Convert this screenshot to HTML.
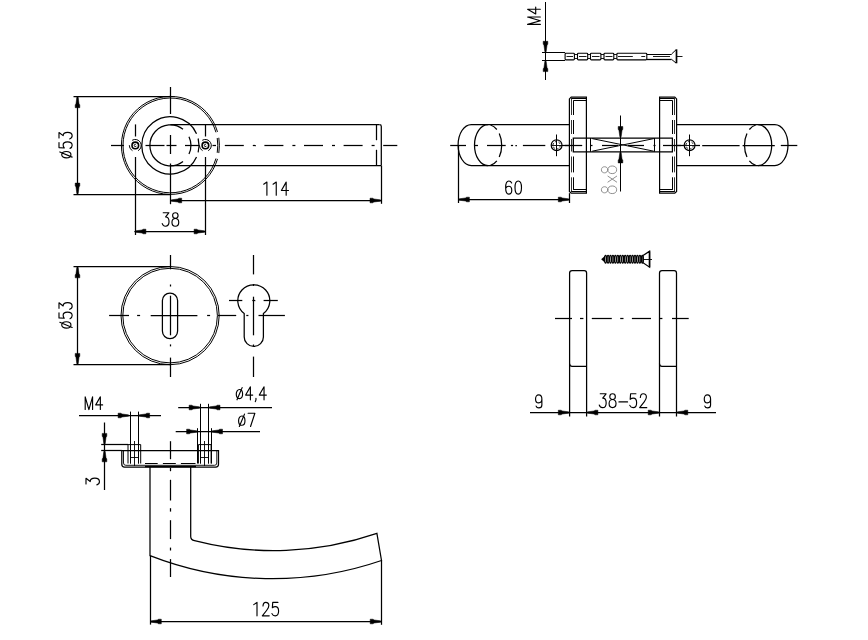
<!DOCTYPE html>
<html><head><meta charset="utf-8"><style>
html,body{margin:0;padding:0;background:#fff;width:868px;height:640px;overflow:hidden;font-family:"Liberation Sans",sans-serif}
svg{display:block}
</style></head><body>
<svg width="868" height="640" viewBox="0 0 868 640"><rect width="868" height="640" fill="#fff"/><g fill="none" stroke="#000" stroke-width="1.25"><path d="M217.5 158.91A49 49 0 1 1 217.5 131.89" stroke-width="1"/>
<path d="M218.8 137.73A49 49 0 0 1 218.8 153.07" stroke-width="1"/>
<path d="M215.96 158.47A47.4 47.4 0 1 1 215.96 132.33" stroke-width="1"/>
<path d="M217.22 137.99A47.4 47.4 0 0 1 217.22 152.81" stroke-width="1"/>
<path d="M196.53 157.03A28.6 28.6 0 1 1 196.53 133.77"/>
<path d="M198.15 138.48A28.6 28.6 0 0 1 198.15 152.32"/>
<path d="M183.02 161.55A20.5 20.5 0 1 1 183.02 129.25"/>
<path d="M188.98 136.74A20.5 20.5 0 0 1 188.98 154.06"/>
<line x1="170.4" y1="124.5" x2="379.5" y2="124.5"/>
<path d="M379.5 124.6Q381.3 124.6 381.3 126.4L381.3 165.6"/>
<line x1="170.4" y1="165.5" x2="381.3" y2="165.5"/>
<line x1="376.5" y1="124.6" x2="376.5" y2="140.2"/>
<line x1="376.5" y1="149.8" x2="376.5" y2="165.6"/>
<line x1="111" y1="145.5" x2="124" y2="145.5"/>
<line x1="145.5" y1="145.5" x2="164.5" y2="145.5"/>
<line x1="166.5" y1="145.5" x2="176.5" y2="145.5"/>
<line x1="185" y1="145.5" x2="199" y2="145.5"/>
<line x1="212.5" y1="145.5" x2="216" y2="145.5"/>
<line x1="224.8" y1="145.5" x2="243.8" y2="145.5"/>
<line x1="252.8" y1="145.5" x2="255.8" y2="145.5"/>
<line x1="264.4" y1="145.5" x2="283.4" y2="145.5"/>
<line x1="292.4" y1="145.5" x2="295.4" y2="145.5"/>
<line x1="304" y1="145.5" x2="323" y2="145.5"/>
<line x1="332" y1="145.5" x2="335" y2="145.5"/>
<line x1="343.6" y1="145.5" x2="362.6" y2="145.5"/>
<line x1="371.6" y1="145.5" x2="374.6" y2="145.5"/>
<line x1="383.2" y1="145.5" x2="397.3" y2="145.5"/>
<line x1="170.5" y1="87" x2="170.5" y2="114"/>
<line x1="170.5" y1="135" x2="170.5" y2="154"/>
<line x1="170.5" y1="163.5" x2="170.5" y2="204.2"/>
<path d="M132.12 140.31A6 6 0 1 1 138.12 150.7" stroke-width="1"/>
<path d="M132.48 150.7A6 6 0 0 1 129.3 145.19" stroke-width="1"/>
<circle cx="135.3" cy="145.4" r="3.3" stroke-width="1.6"/>
<path d="M136.43 145.81A1.2 1.2 0 1 1 135.9 144.36" stroke-width="0.9"/>
<line x1="135.5" y1="124.4" x2="135.5" y2="136.5"/>
<line x1="135.5" y1="157" x2="135.5" y2="235"/>
<path d="M202.22 140.31A6 6 0 1 1 208.22 150.7" stroke-width="1"/>
<path d="M202.58 150.7A6 6 0 0 1 199.4 145.19" stroke-width="1"/>
<circle cx="205.4" cy="145.4" r="3.3" stroke-width="1.6"/>
<path d="M206.53 145.81A1.2 1.2 0 1 1 206 144.36" stroke-width="0.9"/>
<line x1="205.5" y1="124.4" x2="205.5" y2="136.5"/>
<line x1="205.5" y1="157" x2="205.5" y2="235"/>
<line x1="73.5" y1="96.5" x2="170.4" y2="96.5"/>
<line x1="73.5" y1="194.5" x2="170.4" y2="194.5"/>
<line x1="77.5" y1="96.4" x2="77.5" y2="194.4"/>
<path d="M77.5 96.4 L76.8 97.6 L75.95 104 L75.2 104.7 L75.2 107.7 L79.8 107.7 L79.8 104.7 L79.05 104 L78.2 97.6Z" fill="#000" stroke="#000" stroke-width="0.5"/>
<path d="M77.5 194.4 L76.8 193.2 L75.95 186.8 L75.2 186.1 L75.2 183.1 L79.8 183.1 L79.8 186.1 L79.05 186.8 L78.2 193.2Z" fill="#000" stroke="#000" stroke-width="0.5"/>
<g transform="translate(59 145.3) rotate(-90)" stroke="#000" stroke-width="1.15" stroke-linecap="round" stroke-linejoin="round"><path transform="translate(-12.96 0) scale(0.94 0.94)" d="M3.8 2.9C5.7 2.9 7.2 5 7.2 7.8C7.2 10.6 5.7 12.7 3.8 12.7C1.9 12.7 0.4 10.6 0.4 7.8C0.4 5 1.9 2.9 3.8 2.9ZM1.2 14L6.7 0.9" vector-effect="non-scaling-stroke"/><path transform="translate(-3.06 0) scale(0.94 0.94)" d="M6.2 0L0.8 0L0.4 5.6C1.2 4.9 2.3 4.4 3.5 4.4C5.6 4.4 6.9 6.3 6.9 9C6.9 12 5.4 14 3.4 14C1.8 14 0.6 13.1 0 11.7" vector-effect="non-scaling-stroke"/><path transform="translate(6.36 0) scale(0.94 0.94)" d="M1 0L6.9 0L3.5 4.4C5.7 4.4 7 6.3 7 9.2C7 12.2 5.4 14 3.3 14C1.8 14 0.6 13.1 0 11.3" vector-effect="non-scaling-stroke"/></g>
<line x1="170.4" y1="200.5" x2="381.3" y2="200.5"/>
<line x1="381.5" y1="165.6" x2="381.5" y2="203.8"/>
<path d="M170.4 200.5 L171.6 199.8 L178 198.95 L178.7 198.2 L181.7 198.2 L181.7 202.8 L178.7 202.8 L178 202.05 L171.6 201.2Z" fill="#000" stroke="#000" stroke-width="0.5"/>
<path d="M381.3 200.5 L380.1 199.8 L373.7 198.95 L373 198.2 L370 198.2 L370 202.8 L373 202.8 L373.7 202.05 L380.1 201.2Z" fill="#000" stroke="#000" stroke-width="0.5"/>
<g transform="translate(275.3 182.1)" stroke="#000" stroke-width="1.15" stroke-linecap="round" stroke-linejoin="round"><path transform="translate(-12.63 0) scale(0.94 0.94)" d="M1.1 2.3L4.5 0L4.5 14" vector-effect="non-scaling-stroke"/><path transform="translate(-3.28 0) scale(0.94 0.94)" d="M1.1 2.3L4.5 0L4.5 14" vector-effect="non-scaling-stroke"/><path transform="translate(6.08 0) scale(0.94 0.94)" d="M5.1 14L5.1 0L0 8.9L7.6 8.9" vector-effect="non-scaling-stroke"/></g>
<line x1="134.6" y1="231.5" x2="205.4" y2="231.5"/>
<path d="M134.6 231.5 L135.8 230.8 L142.2 229.95 L142.9 229.2 L145.9 229.2 L145.9 233.8 L142.9 233.8 L142.2 233.05 L135.8 232.2Z" fill="#000" stroke="#000" stroke-width="0.5"/>
<path d="M205.4 231.5 L204.2 230.8 L197.8 229.95 L197.1 229.2 L194.1 229.2 L194.1 233.8 L197.1 233.8 L197.8 233.05 L204.2 232.2Z" fill="#000" stroke="#000" stroke-width="0.5"/>
<g transform="translate(170.5 212.7)" stroke="#000" stroke-width="1.15" stroke-linecap="round" stroke-linejoin="round"><path transform="translate(-8.26 0) scale(0.97 0.97)" d="M1 0L6.9 0L3.5 4.4C5.7 4.4 7 6.3 7 9.2C7 12.2 5.4 14 3.3 14C1.8 14 0.6 13.1 0 11.3" vector-effect="non-scaling-stroke"/><path transform="translate(1.46 0) scale(0.97 0.97)" d="M3.5 5.8C1.8 5.8 0.7 4.6 0.7 2.9C0.7 1.1 1.8 0 3.5 0C5.2 0 6.3 1.1 6.3 2.9C6.3 4.6 5.2 5.8 3.5 5.8C1.4 5.8 0 7.5 0 9.9C0 12.5 1.4 14 3.5 14C5.6 14 7 12.5 7 9.9C7 7.5 5.6 5.8 3.5 5.8Z" vector-effect="non-scaling-stroke"/></g>
<circle cx="170.1" cy="315.6" r="49.1" stroke-width="1"/>
<circle cx="170.1" cy="315.6" r="47.3" stroke-width="1"/>
<line x1="73.5" y1="266.5" x2="170.1" y2="266.5"/>
<line x1="73.5" y1="364.5" x2="170.1" y2="364.5"/>
<line x1="77.5" y1="266.5" x2="77.5" y2="364.7"/>
<path d="M77.5 266.5 L76.8 267.7 L75.95 274.1 L75.2 274.8 L75.2 277.8 L79.8 277.8 L79.8 274.8 L79.05 274.1 L78.2 267.7Z" fill="#000" stroke="#000" stroke-width="0.5"/>
<path d="M77.5 364.7 L76.8 363.5 L75.95 357.1 L75.2 356.4 L75.2 353.4 L79.8 353.4 L79.8 356.4 L79.05 357.1 L78.2 363.5Z" fill="#000" stroke="#000" stroke-width="0.5"/>
<g transform="translate(59 315.6) rotate(-90)" stroke="#000" stroke-width="1.15" stroke-linecap="round" stroke-linejoin="round"><path transform="translate(-12.96 0) scale(0.94 0.94)" d="M3.8 2.9C5.7 2.9 7.2 5 7.2 7.8C7.2 10.6 5.7 12.7 3.8 12.7C1.9 12.7 0.4 10.6 0.4 7.8C0.4 5 1.9 2.9 3.8 2.9ZM1.2 14L6.7 0.9" vector-effect="non-scaling-stroke"/><path transform="translate(-3.06 0) scale(0.94 0.94)" d="M6.2 0L0.8 0L0.4 5.6C1.2 4.9 2.3 4.4 3.5 4.4C5.6 4.4 6.9 6.3 6.9 9C6.9 12 5.4 14 3.4 14C1.8 14 0.6 13.1 0 11.7" vector-effect="non-scaling-stroke"/><path transform="translate(6.36 0) scale(0.94 0.94)" d="M1 0L6.9 0L3.5 4.4C5.7 4.4 7 6.3 7 9.2C7 12.2 5.4 14 3.3 14C1.8 14 0.6 13.1 0 11.3" vector-effect="non-scaling-stroke"/></g>
<path d="M162.4 300.6A7.6 7.6 0 0 1 177.6 300.6L177.6 331.1A7.6 7.6 0 0 1 162.4 331.1Z"/>
<line x1="170.5" y1="255" x2="170.5" y2="269.3"/>
<line x1="170.5" y1="284.5" x2="170.5" y2="286.5"/>
<line x1="170.5" y1="295.7" x2="170.5" y2="335.3"/>
<line x1="170.5" y1="344.4" x2="170.5" y2="346.4"/>
<line x1="170.5" y1="357.6" x2="170.5" y2="377"/>
<line x1="109.1" y1="315.5" x2="129" y2="315.5"/>
<line x1="137.1" y1="315.5" x2="140.1" y2="315.5"/>
<line x1="150.7" y1="315.5" x2="197.4" y2="315.5"/>
<line x1="207.1" y1="315.5" x2="210.1" y2="315.5"/>
<line x1="217.7" y1="315.5" x2="236.2" y2="315.5"/>
<line x1="246.3" y1="315.5" x2="248.4" y2="315.5"/>
<line x1="258.5" y1="315.5" x2="284.9" y2="315.5"/>
<path d="M244.2 313.6A16 16 0 1 1 263.4 313.6L263.4 336.9A9.6 9.6 0 0 1 244.2 336.9Z"/>
<line x1="253.5" y1="255" x2="253.5" y2="274.4"/>
<line x1="253.5" y1="284" x2="253.5" y2="286"/>
<line x1="253.5" y1="296.7" x2="253.5" y2="335.3"/>
<line x1="253.5" y1="344.5" x2="253.5" y2="346.5"/>
<line x1="253.5" y1="356.6" x2="253.5" y2="377"/>
<line x1="229" y1="300.5" x2="242.3" y2="300.5"/>
<line x1="252.3" y1="300.5" x2="255.3" y2="300.5"/>
<line x1="263.6" y1="300.5" x2="277.8" y2="300.5"/>
<path d="M121.8 450.5L121.8 464.2Q121.8 467 124.6 467L215.7 467Q218.5 467 218.5 464.2L218.5 450.5Z"/>
<path d="M123.5 450.5L123.5 463Q123.5 465.3 125.8 465.3L214.5 465.3Q216.8 465.3 216.8 463L216.8 450.5" stroke-width="0.9"/>
<path d="M128 463.5L128 444.6L140.7 444.6L140.7 463.5" stroke-width="1"/>
<line x1="130.5" y1="450.5" x2="130.5" y2="463.5" stroke-width="0.9"/>
<line x1="138.5" y1="450.5" x2="138.5" y2="463.5" stroke-width="0.9"/>
<line x1="134.5" y1="441" x2="134.5" y2="466" stroke-width="0.9"/>
<line x1="130.5" y1="457.5" x2="138.2" y2="457.5" stroke-width="0.9"/>
<line x1="130.5" y1="450.5" x2="138.2" y2="450.5" stroke-width="0.9"/>
<path d="M198.4 463.5L198.4 444.6L211.1 444.6L211.1 463.5" stroke-width="1"/>
<line x1="200.5" y1="450.5" x2="200.5" y2="463.5" stroke-width="0.9"/>
<line x1="208.5" y1="450.5" x2="208.5" y2="463.5" stroke-width="0.9"/>
<line x1="204.5" y1="441" x2="204.5" y2="466" stroke-width="0.9"/>
<line x1="200.9" y1="457.5" x2="208.6" y2="457.5" stroke-width="0.9"/>
<line x1="200.9" y1="450.5" x2="208.6" y2="450.5" stroke-width="0.9"/>
<line x1="145" y1="463.5" x2="157.7" y2="463.5" stroke-width="1"/>
<line x1="162.9" y1="463.5" x2="175.8" y2="463.5" stroke-width="1"/>
<line x1="180.9" y1="463.5" x2="195.5" y2="463.5" stroke-width="1"/>
<line x1="145" y1="466.5" x2="196" y2="466.5" stroke-width="1.6"/>
<path d="M150 467L150 555.6A336.29 336.29 0 0 0 381.5 560.5L376.9 533.4A318.56 318.56 0 0 1 194.5 540.6Q190.7 539.8 190.7 536.4L190.7 467"/>
<line x1="170.5" y1="441.2" x2="170.5" y2="459.2"/>
<line x1="170.5" y1="467.8" x2="170.5" y2="471.2"/>
<line x1="170.5" y1="479.8" x2="170.5" y2="500.5"/>
<line x1="170.5" y1="508.2" x2="170.5" y2="511.6"/>
<line x1="170.5" y1="520.2" x2="170.5" y2="539.1"/>
<line x1="170.5" y1="547.6" x2="170.5" y2="550.5"/>
<line x1="170.5" y1="559.1" x2="170.5" y2="577"/>
<line x1="150.5" y1="555.6" x2="150.5" y2="624.6"/>
<line x1="381.5" y1="560.5" x2="381.5" y2="624.8"/>
<line x1="150" y1="621.5" x2="381.5" y2="621.5"/>
<path d="M150 621.5 L151.2 620.8 L157.6 619.95 L158.3 619.2 L161.3 619.2 L161.3 623.8 L158.3 623.8 L157.6 623.05 L151.2 622.2Z" fill="#000" stroke="#000" stroke-width="0.5"/>
<path d="M381.5 621.5 L380.3 620.8 L373.9 619.95 L373.2 619.2 L370.2 619.2 L370.2 623.8 L373.2 623.8 L373.9 623.05 L380.3 622.2Z" fill="#000" stroke="#000" stroke-width="0.5"/>
<g transform="translate(265.7 602.4)" stroke="#000" stroke-width="1.15" stroke-linecap="round" stroke-linejoin="round"><path transform="translate(-13.02 0) scale(0.96 0.96)" d="M1.1 2.3L4.5 0L4.5 14" vector-effect="non-scaling-stroke"/><path transform="translate(-3.38 0) scale(0.96 0.96)" d="M0.7 3.7C0.9 1.3 2 0 3.5 0C5.3 0 6.8 1.2 6.8 3.3C6.8 5.1 5.9 6.5 4.6 8.2L0 14L7.2 14" vector-effect="non-scaling-stroke"/><path transform="translate(6.27 0) scale(0.96 0.96)" d="M6.2 0L0.8 0L0.4 5.6C1.2 4.9 2.3 4.4 3.5 4.4C5.6 4.4 6.9 6.3 6.9 9C6.9 12 5.4 14 3.4 14C1.8 14 0.6 13.1 0 11.7" vector-effect="non-scaling-stroke"/></g>
<line x1="79" y1="415.5" x2="161" y2="415.5"/>
<path d="M129.4 415.5 L128.2 414.8 L121.8 413.95 L121.1 413.2 L118.1 413.2 L118.1 417.8 L121.1 417.8 L121.8 417.05 L128.2 416.2Z" fill="#000" stroke="#000" stroke-width="0.5"/>
<path d="M138.3 415.5 L139.5 414.8 L145.9 413.95 L146.6 413.2 L149.6 413.2 L149.6 417.8 L146.6 417.8 L145.9 417.05 L139.5 416.2Z" fill="#000" stroke="#000" stroke-width="0.5"/>
<line x1="130.5" y1="411.6" x2="130.5" y2="463.5" stroke-width="1"/>
<line x1="138.5" y1="411.6" x2="138.5" y2="463.5" stroke-width="1"/>
<g transform="translate(85.2 396.8)" stroke="#000" stroke-width="1.15" stroke-linecap="round" stroke-linejoin="round"><path transform="translate(0 0) scale(0.91 0.91)" d="M0 14L0 0L4.05 14L8.1 0L8.1 14" vector-effect="non-scaling-stroke"/><path transform="translate(10.51 0) scale(0.91 0.91)" d="M5.1 14L5.1 0L0 8.9L7.6 8.9" vector-effect="non-scaling-stroke"/></g>
<line x1="104.5" y1="422.5" x2="104.5" y2="490"/>
<path d="M104.5 444.7 L103.8 443.5 L102.95 437.1 L102.2 436.4 L102.2 433.4 L106.8 433.4 L106.8 436.4 L106.05 437.1 L105.2 443.5Z" fill="#000" stroke="#000" stroke-width="0.5"/>
<path d="M104.5 450.5 L103.8 451.7 L102.95 458.1 L102.2 458.8 L102.2 461.8 L106.8 461.8 L106.8 458.8 L106.05 458.1 L105.2 451.7Z" fill="#000" stroke="#000" stroke-width="0.5"/>
<line x1="101.2" y1="444.5" x2="128" y2="444.5"/>
<line x1="101.2" y1="450.5" x2="121.8" y2="450.5"/>
<g transform="translate(86 481.5) rotate(-90)" stroke="#000" stroke-width="1.15" stroke-linecap="round" stroke-linejoin="round"><path transform="translate(-3.38 0) scale(0.96 0.96)" d="M1 0L6.9 0L3.5 4.4C5.7 4.4 7 6.3 7 9.2C7 12.2 5.4 14 3.3 14C1.8 14 0.6 13.1 0 11.3" vector-effect="non-scaling-stroke"/></g>
<line x1="178.2" y1="407.5" x2="272" y2="407.5"/>
<path d="M200.4 407.5 L199.2 406.8 L192.8 405.95 L192.1 405.2 L189.1 405.2 L189.1 409.8 L192.1 409.8 L192.8 409.05 L199.2 408.2Z" fill="#000" stroke="#000" stroke-width="0.5"/>
<path d="M208.7 407.5 L209.9 406.8 L216.3 405.95 L217 405.2 L220 405.2 L220 409.8 L217 409.8 L216.3 409.05 L209.9 408.2Z" fill="#000" stroke="#000" stroke-width="0.5"/>
<line x1="200.5" y1="403.8" x2="200.5" y2="463.5" stroke-width="1"/>
<line x1="208.5" y1="403.8" x2="208.5" y2="463.5" stroke-width="1"/>
<g transform="translate(235.9 386.8)" stroke="#000" stroke-width="1.15" stroke-linecap="round" stroke-linejoin="round"><path transform="translate(0 0) scale(0.93 0.93)" d="M3.8 2.9C5.7 2.9 7.2 5 7.2 7.8C7.2 10.6 5.7 12.7 3.8 12.7C1.9 12.7 0.4 10.6 0.4 7.8C0.4 5 1.9 2.9 3.8 2.9ZM1.2 14L6.7 0.9" vector-effect="non-scaling-stroke"/><path transform="translate(9.75 0) scale(0.93 0.93)" d="M5.1 14L5.1 0L0 8.9L7.6 8.9" vector-effect="non-scaling-stroke"/><path transform="translate(19.04 0) scale(0.93 0.93)" d="M1.1 12.4L1.1 14L0.4 16" vector-effect="non-scaling-stroke"/><path transform="translate(23.4 0) scale(0.93 0.93)" d="M5.1 14L5.1 0L0 8.9L7.6 8.9" vector-effect="non-scaling-stroke"/></g>
<line x1="175.7" y1="431.5" x2="260" y2="431.5"/>
<path d="M197.9 431.5 L196.7 430.8 L190.3 429.95 L189.6 429.2 L186.6 429.2 L186.6 433.8 L189.6 433.8 L190.3 433.05 L196.7 432.2Z" fill="#000" stroke="#000" stroke-width="0.5"/>
<path d="M211.2 431.5 L212.4 430.8 L218.8 429.95 L219.5 429.2 L222.5 429.2 L222.5 433.8 L219.5 433.8 L218.8 433.05 L212.4 432.2Z" fill="#000" stroke="#000" stroke-width="0.5"/>
<line x1="197.5" y1="428.2" x2="197.5" y2="463.5" stroke-width="1"/>
<line x1="211.5" y1="428.2" x2="211.5" y2="463.5" stroke-width="1"/>
<g transform="translate(238.2 413.3)" stroke="#000" stroke-width="1.15" stroke-linecap="round" stroke-linejoin="round"><path transform="translate(0 0) scale(0.94 0.94)" d="M3.8 2.9C5.7 2.9 7.2 5 7.2 7.8C7.2 10.6 5.7 12.7 3.8 12.7C1.9 12.7 0.4 10.6 0.4 7.8C0.4 5 1.9 2.9 3.8 2.9ZM1.2 14L6.7 0.9" vector-effect="non-scaling-stroke"/><path transform="translate(9.9 0) scale(0.94 0.94)" d="M0 0L7.2 0L2.6 14" vector-effect="non-scaling-stroke"/></g>
<path d="M569.6 124.5 L471.3 124.5 A13.2 20.5 0 0 0 471.3 165.5 L569.6 165.5"/>
<path d="M488.1 165.7A13.6 20.5 0 0 1 488.1 124.7"/>
<path d="M490.46 125.01A13.6 20.5 0 0 1 496.84 129.5"/>
<path d="M499.24 133.44A13.6 20.5 0 0 1 499.24 156.96"/>
<path d="M496.84 160.9A13.6 20.5 0 0 1 490.46 165.39"/>
<path d="M676.6 124.5 L774.8 124.5 A13.2 20.5 0 0 1 774.8 165.5 L676.6 165.5"/>
<path d="M758.1 124.7A13.6 20.5 0 0 1 758.1 165.7"/>
<path d="M755.74 165.39A13.6 20.5 0 0 1 749.36 160.9"/>
<path d="M746.96 156.96A13.6 20.5 0 0 1 746.96 133.44"/>
<path d="M749.36 129.5A13.6 20.5 0 0 1 755.74 125.01"/>
<line x1="450.2" y1="145.5" x2="466" y2="145.5"/>
<line x1="474.2" y1="145.5" x2="478" y2="145.5"/>
<line x1="487" y1="145.5" x2="505.7" y2="145.5"/>
<line x1="510.9" y1="145.5" x2="513.1" y2="145.5"/>
<line x1="515.4" y1="145.5" x2="516.9" y2="145.5"/>
<line x1="522.9" y1="145.5" x2="545.3" y2="145.5"/>
<line x1="561.8" y1="145.5" x2="569.6" y2="145.5"/>
<line x1="565" y1="145.5" x2="582.2" y2="145.5"/>
<line x1="590.5" y1="145.5" x2="592.5" y2="145.5"/>
<line x1="602" y1="145.5" x2="618" y2="145.5"/>
<line x1="628" y1="145.5" x2="644" y2="145.5"/>
<line x1="653.5" y1="145.5" x2="655.5" y2="145.5"/>
<line x1="663" y1="145.5" x2="681" y2="145.5"/>
<line x1="676.6" y1="145.5" x2="684.2" y2="145.5"/>
<line x1="694.7" y1="145.5" x2="700" y2="145.5"/>
<line x1="702.2" y1="145.5" x2="739.6" y2="145.5"/>
<line x1="742.6" y1="145.5" x2="774.8" y2="145.5"/>
<line x1="780.8" y1="145.5" x2="797.3" y2="145.5"/>
<circle cx="556.6" cy="145.2" r="5.4" stroke-width="1.2"/>
<circle cx="556.6" cy="145.2" r="3.7" stroke-width="0.9" stroke-dasharray="2.2 1.6"/>
<line x1="551.2" y1="145.5" x2="562" y2="145.5" stroke-width="0.9"/>
<line x1="556.5" y1="134.5" x2="556.5" y2="156.2" stroke-width="1"/>
<circle cx="689.6" cy="145.2" r="5.4" stroke-width="1.2"/>
<circle cx="689.6" cy="145.2" r="3.7" stroke-width="0.9" stroke-dasharray="2.2 1.6"/>
<line x1="684.2" y1="145.5" x2="695" y2="145.5" stroke-width="0.9"/>
<line x1="689.5" y1="134.5" x2="689.5" y2="156.2" stroke-width="1"/>
<path d="M586.4 97.1L571.2 97.1L569.4 98.9L569.4 191.4L571.2 193.2L586.4 193.2Z" stroke-width="1.2"/>
<line x1="571.2" y1="98.5" x2="586.4" y2="98.5" stroke-width="1"/>
<line x1="573.4" y1="100.5" x2="586.4" y2="100.5" stroke-width="1"/>
<line x1="571.2" y1="191.5" x2="586.4" y2="191.5" stroke-width="1"/>
<line x1="573.4" y1="189.5" x2="586.4" y2="189.5" stroke-width="1"/>
<line x1="571.5" y1="98.6" x2="571.5" y2="115" stroke-width="0.8"/>
<line x1="571.5" y1="120" x2="571.5" y2="134" stroke-width="0.8"/>
<line x1="571.5" y1="139" x2="571.5" y2="151.5" stroke-width="0.8"/>
<line x1="571.5" y1="156.5" x2="571.5" y2="172.4" stroke-width="0.8"/>
<line x1="571.5" y1="177.3" x2="571.5" y2="191.7" stroke-width="0.8"/>
<line x1="573.5" y1="100.5" x2="573.5" y2="115" stroke-width="1"/>
<line x1="573.5" y1="120" x2="573.5" y2="134" stroke-width="1"/>
<line x1="573.5" y1="139" x2="573.5" y2="151.5" stroke-width="1"/>
<line x1="573.5" y1="156.5" x2="573.5" y2="172.4" stroke-width="1"/>
<line x1="573.5" y1="177.3" x2="573.5" y2="189.8" stroke-width="1"/>
<path d="M659.6 97.1L674.8 97.1L676.6 98.9L676.6 191.4L674.8 193.2L659.6 193.2Z" stroke-width="1.2"/>
<line x1="674.8" y1="98.5" x2="659.6" y2="98.5" stroke-width="1"/>
<line x1="672.6" y1="100.5" x2="659.6" y2="100.5" stroke-width="1"/>
<line x1="674.8" y1="191.5" x2="659.6" y2="191.5" stroke-width="1"/>
<line x1="672.6" y1="189.5" x2="659.6" y2="189.5" stroke-width="1"/>
<line x1="674.5" y1="98.6" x2="674.5" y2="115" stroke-width="0.8"/>
<line x1="674.5" y1="120" x2="674.5" y2="134" stroke-width="0.8"/>
<line x1="674.5" y1="139" x2="674.5" y2="151.5" stroke-width="0.8"/>
<line x1="674.5" y1="156.5" x2="674.5" y2="172.4" stroke-width="0.8"/>
<line x1="674.5" y1="177.3" x2="674.5" y2="191.7" stroke-width="0.8"/>
<line x1="672.5" y1="100.5" x2="672.5" y2="115" stroke-width="1"/>
<line x1="672.5" y1="120" x2="672.5" y2="134" stroke-width="1"/>
<line x1="672.5" y1="139" x2="672.5" y2="151.5" stroke-width="1"/>
<line x1="672.5" y1="156.5" x2="672.5" y2="172.4" stroke-width="1"/>
<line x1="672.5" y1="177.3" x2="672.5" y2="189.8" stroke-width="1"/>
<path d="M573.3 138H672.4V151.8H573.3Z" stroke-linejoin="miter"/>
<line x1="590.5" y1="138" x2="590.5" y2="151.8" stroke-width="1"/>
<line x1="654.5" y1="138" x2="654.5" y2="151.8" stroke-width="1"/>
<line x1="592.2" y1="138.6" x2="653.8" y2="151.2" stroke-width="1"/>
<line x1="592.2" y1="151.2" x2="653.8" y2="138.6" stroke-width="1"/>
<line x1="620.5" y1="115.5" x2="620.5" y2="191.5" stroke-width="1"/>
<path d="M620.5 137.8 L619.8 136.6 L618.95 130.2 L618.2 129.5 L618.2 126.5 L622.8 126.5 L622.8 129.5 L622.05 130.2 L621.2 136.6Z" fill="#000" stroke="#000" stroke-width="0.5"/>
<path d="M620.5 151.6 L619.8 152.8 L618.95 159.2 L618.2 159.9 L618.2 162.9 L622.8 162.9 L622.8 159.9 L622.05 159.2 L621.2 152.8Z" fill="#000" stroke="#000" stroke-width="0.5"/>
<g transform="translate(601.4 179.8) rotate(-90)" stroke="#8a8a8a" stroke-width="0.95" stroke-linecap="round" stroke-linejoin="round"><path transform="translate(-13.79 0) scale(1.09 1.09)" d="M3.5 5.8C1.8 5.8 0.7 4.6 0.7 2.9C0.7 1.1 1.8 0 3.5 0C5.2 0 6.3 1.1 6.3 2.9C6.3 4.6 5.2 5.8 3.5 5.8C1.4 5.8 0 7.5 0 9.9C0 12.5 1.4 14 3.5 14C5.6 14 7 12.5 7 9.9C7 7.5 5.6 5.8 3.5 5.8Z" vector-effect="non-scaling-stroke"/><path transform="translate(-2.93 0) scale(1.09 1.09)" d="M0.6 6L6 14M6 6L0.6 14" vector-effect="non-scaling-stroke"/><path transform="translate(6.19 0) scale(1.09 1.09)" d="M3.5 5.8C1.8 5.8 0.7 4.6 0.7 2.9C0.7 1.1 1.8 0 3.5 0C5.2 0 6.3 1.1 6.3 2.9C6.3 4.6 5.2 5.8 3.5 5.8C1.4 5.8 0 7.5 0 9.9C0 12.5 1.4 14 3.5 14C5.6 14 7 12.5 7 9.9C7 7.5 5.6 5.8 3.5 5.8Z" vector-effect="non-scaling-stroke"/></g>
<line x1="458.5" y1="145.2" x2="458.5" y2="203"/>
<line x1="569.5" y1="193.2" x2="569.5" y2="203"/>
<line x1="458.1" y1="199.5" x2="569.6" y2="199.5"/>
<path d="M458.1 199.5 L459.3 198.8 L465.7 197.95 L466.4 197.2 L469.4 197.2 L469.4 201.8 L466.4 201.8 L465.7 201.05 L459.3 200.2Z" fill="#000" stroke="#000" stroke-width="0.5"/>
<path d="M569.6 199.5 L568.4 198.8 L562 197.95 L561.3 197.2 L558.3 197.2 L558.3 201.8 L561.3 201.8 L562 201.05 L568.4 200.2Z" fill="#000" stroke="#000" stroke-width="0.5"/>
<g transform="translate(513.6 181)" stroke="#000" stroke-width="1.15" stroke-linecap="round" stroke-linejoin="round"><path transform="translate(-7.95 0) scale(0.94 0.94)" d="M6.4 2.1C5.8 0.7 4.8 0 3.4 0C1.2 0 0 2.3 0 7C0 11.8 1.3 14 3.3 14C5.2 14 6.5 12.3 6.5 9.9C6.5 7.4 5.2 5.6 3.3 5.6C1.8 5.6 0.6 6.5 0.1 7.6" vector-effect="non-scaling-stroke"/><path transform="translate(1.4 0) scale(0.94 0.94)" d="M3.4 0C5.6 0 6.9 2.6 6.9 7C6.9 11.4 5.6 14 3.4 14C1.3 14 0 11.4 0 7C0 2.6 1.3 0 3.4 0Z" vector-effect="non-scaling-stroke"/></g>
<line x1="545.5" y1="2" x2="545.5" y2="80" stroke-width="1"/>
<path d="M545.5 52.6 L544.8 51.4 L543.95 45 L543.2 44.3 L543.2 41.3 L547.8 41.3 L547.8 44.3 L547.05 45 L546.2 51.4Z" fill="#000" stroke="#000" stroke-width="0.5"/>
<path d="M545.5 60.3 L544.8 61.5 L543.95 67.9 L543.2 68.6 L543.2 71.6 L547.8 71.6 L547.8 68.6 L547.05 67.9 L546.2 61.5Z" fill="#000" stroke="#000" stroke-width="0.5"/>
<line x1="542" y1="52.5" x2="565.1" y2="52.5" stroke-width="1"/>
<line x1="542" y1="60.5" x2="565.1" y2="60.5" stroke-width="1"/>
<path d="M566 53.2H573.5Q574.4 53.2 574.4 54.1V59Q574.4 59.9 573.5 59.9H566Q565.1 59.9 565.1 59V54.1Q565.1 53.2 566 53.2Z" stroke-width="1.1"/>
<path d="M578.4 53.2H586.8Q587.7 53.2 587.7 54.1V59Q587.7 59.9 586.8 59.9H578.4Q577.5 59.9 577.5 59V54.1Q577.5 53.2 578.4 53.2Z" stroke-width="1.1"/>
<path d="M591.4 53.2H600Q600.9 53.2 600.9 54.1V59Q600.9 59.9 600 59.9H591.4Q590.5 59.9 590.5 59V54.1Q590.5 53.2 591.4 53.2Z" stroke-width="1.1"/>
<path d="M604.9 53.2H612.9Q613.8 53.2 613.8 54.1V59Q613.8 59.9 612.9 59.9H604.9Q604 59.9 604 59V54.1Q604 53.2 604.9 53.2Z" stroke-width="1.1"/>
<path d="M617.8 53.2H645.9Q646.8 53.2 646.8 54.1V59Q646.8 59.9 645.9 59.9H617.8Q616.9 59.9 616.9 59V54.1Q616.9 53.2 617.8 53.2Z" stroke-width="1.1"/>
<line x1="574.4" y1="54.5" x2="577.5" y2="54.5" stroke-width="0.9"/>
<line x1="574.4" y1="58.5" x2="577.5" y2="58.5" stroke-width="0.9"/>
<line x1="587.7" y1="54.5" x2="590.5" y2="54.5" stroke-width="0.9"/>
<line x1="587.7" y1="58.5" x2="590.5" y2="58.5" stroke-width="0.9"/>
<line x1="600.9" y1="54.5" x2="604" y2="54.5" stroke-width="0.9"/>
<line x1="600.9" y1="58.5" x2="604" y2="58.5" stroke-width="0.9"/>
<line x1="613.8" y1="54.5" x2="616.9" y2="54.5" stroke-width="0.9"/>
<line x1="613.8" y1="58.5" x2="616.9" y2="58.5" stroke-width="0.9"/>
<line x1="566.5" y1="56.5" x2="573" y2="56.5" stroke-width="0.9"/>
<line x1="579" y1="56.5" x2="586.5" y2="56.5" stroke-width="0.9"/>
<line x1="592" y1="56.5" x2="599.5" y2="56.5" stroke-width="0.9"/>
<line x1="605.5" y1="56.5" x2="612.5" y2="56.5" stroke-width="0.9"/>
<line x1="618" y1="56.5" x2="632.8" y2="56.5" stroke-width="0.9"/>
<line x1="641.3" y1="56.5" x2="645.2" y2="56.5" stroke-width="0.9"/>
<line x1="653" y1="56.5" x2="670" y2="56.5" stroke-width="0.9"/>
<line x1="646.8" y1="54.5" x2="671.6" y2="54.5" stroke-width="1"/>
<line x1="646.8" y1="59.5" x2="671.6" y2="59.5" stroke-width="1.3"/>
<path d="M671.6 54L676 49.8M671.6 59.4L676 63" stroke-width="1"/>
<line x1="676.5" y1="49.3" x2="676.5" y2="63.3" stroke-width="1.7"/>
<line x1="676" y1="56.5" x2="682.5" y2="56.5" stroke-width="0.9"/>
<g transform="translate(527.6 7.5) rotate(-90)" stroke="#000" stroke-width="1.15" stroke-linecap="round" stroke-linejoin="round"><path transform="translate(-16.91 0) scale(0.91 0.91)" d="M0 14L0 0L4.05 14L8.1 0L8.1 14" vector-effect="non-scaling-stroke"/><path transform="translate(-6.4 0) scale(0.91 0.91)" d="M5.1 14L5.1 0L0 8.9L7.6 8.9" vector-effect="non-scaling-stroke"/></g>
<path d="M569.6 416.5L569.6 273Q569.6 270.5 572.1 270.5L584.3 270.5Q586.6 270.5 586.6 273L586.6 416.5"/>
<path d="M569.6 363.8Q569.6 366.3 572.1 366.3L586.6 366.3"/>
<path d="M659.5 416.5L659.5 273Q659.5 270.5 662 270.5L674.2 270.5Q676.5 270.5 676.5 273L676.5 416.5"/>
<path d="M659.5 363.8Q659.5 366.3 662 366.3L676.5 366.3"/>
<line x1="555" y1="318.5" x2="572" y2="318.5"/>
<line x1="580" y1="318.5" x2="583.4" y2="318.5"/>
<line x1="591.8" y1="318.5" x2="611.8" y2="318.5"/>
<line x1="620.2" y1="318.5" x2="623.5" y2="318.5"/>
<line x1="631.9" y1="318.5" x2="651" y2="318.5"/>
<line x1="659.4" y1="318.5" x2="662.4" y2="318.5"/>
<line x1="672" y1="318.5" x2="688.7" y2="318.5"/>
<line x1="530" y1="412.5" x2="716" y2="412.5"/>
<path d="M569.6 412.5 L568.4 411.8 L562 410.95 L561.3 410.2 L558.3 410.2 L558.3 414.8 L561.3 414.8 L562 414.05 L568.4 413.2Z" fill="#000" stroke="#000" stroke-width="0.5"/>
<path d="M586.6 412.5 L587.8 411.8 L594.2 410.95 L594.9 410.2 L597.9 410.2 L597.9 414.8 L594.9 414.8 L594.2 414.05 L587.8 413.2Z" fill="#000" stroke="#000" stroke-width="0.5"/>
<path d="M659.5 412.5 L658.3 411.8 L651.9 410.95 L651.2 410.2 L648.2 410.2 L648.2 414.8 L651.2 414.8 L651.9 414.05 L658.3 413.2Z" fill="#000" stroke="#000" stroke-width="0.5"/>
<path d="M676.5 412.5 L677.7 411.8 L684.1 410.95 L684.8 410.2 L687.8 410.2 L687.8 414.8 L684.8 414.8 L684.1 414.05 L677.7 413.2Z" fill="#000" stroke="#000" stroke-width="0.5"/>
<g transform="translate(538.8 394.9)" stroke="#000" stroke-width="1.15" stroke-linecap="round" stroke-linejoin="round"><path transform="translate(-3.25 0) scale(0.93 0.93)" d="M6.8 4.5C6.8 7 5.4 8.6 3.4 8.6C1.3 8.6 0 6.8 0 4.3C0 1.7 1.3 0 3.4 0C5.4 0 6.8 1.8 6.8 4.5L6.8 10.8C6.8 12.8 5.4 14 3.5 14C2 14 1 13.3 0.6 12" vector-effect="non-scaling-stroke"/></g>
<g transform="translate(622.9 393.8)" stroke="#000" stroke-width="1.15" stroke-linecap="round" stroke-linejoin="round"><path transform="translate(-23.66 0) scale(0.99 0.99)" d="M1 0L6.9 0L3.5 4.4C5.7 4.4 7 6.3 7 9.2C7 12.2 5.4 14 3.3 14C1.8 14 0.6 13.1 0 11.3" vector-effect="non-scaling-stroke"/><path transform="translate(-13.8 0) scale(0.99 0.99)" d="M3.5 5.8C1.8 5.8 0.7 4.6 0.7 2.9C0.7 1.1 1.8 0 3.5 0C5.2 0 6.3 1.1 6.3 2.9C6.3 4.6 5.2 5.8 3.5 5.8C1.4 5.8 0 7.5 0 9.9C0 12.5 1.4 14 3.5 14C5.6 14 7 12.5 7 9.9C7 7.5 5.6 5.8 3.5 5.8Z" vector-effect="non-scaling-stroke"/><path transform="translate(-3.94 0) scale(0.99 0.99)" d="M0 8.2L8.7 8.2" vector-effect="non-scaling-stroke"/><path transform="translate(6.9 0) scale(0.99 0.99)" d="M6.2 0L0.8 0L0.4 5.6C1.2 4.9 2.3 4.4 3.5 4.4C5.6 4.4 6.9 6.3 6.9 9C6.9 12 5.4 14 3.4 14C1.8 14 0.6 13.1 0 11.7" vector-effect="non-scaling-stroke"/><path transform="translate(16.76 0) scale(0.99 0.99)" d="M0.7 3.7C0.9 1.3 2 0 3.5 0C5.3 0 6.8 1.2 6.8 3.3C6.8 5.1 5.9 6.5 4.6 8.2L0 14L7.2 14" vector-effect="non-scaling-stroke"/></g>
<g transform="translate(707.5 394.9)" stroke="#000" stroke-width="1.15" stroke-linecap="round" stroke-linejoin="round"><path transform="translate(-3.25 0) scale(0.93 0.93)" d="M6.8 4.5C6.8 7 5.4 8.6 3.4 8.6C1.3 8.6 0 6.8 0 4.3C0 1.7 1.3 0 3.4 0C5.4 0 6.8 1.8 6.8 4.5L6.8 10.8C6.8 12.8 5.4 14 3.5 14C2 14 1 13.3 0.6 12" vector-effect="non-scaling-stroke"/></g>
<path d="M601.2 259.2L604.5 256.2L604.5 262.2Z" fill="#000" stroke="none"/>
<ellipse cx="605.6" cy="259.2" rx="0.95" ry="3.8" stroke-width="1.3"/>
<ellipse cx="608.05" cy="259.2" rx="0.95" ry="3.8" stroke-width="1.3"/>
<ellipse cx="610.5" cy="259.2" rx="0.95" ry="3.8" stroke-width="1.3"/>
<ellipse cx="612.95" cy="259.2" rx="0.95" ry="3.8" stroke-width="1.3"/>
<ellipse cx="615.4" cy="259.2" rx="0.95" ry="3.8" stroke-width="1.3"/>
<ellipse cx="617.85" cy="259.2" rx="0.95" ry="3.8" stroke-width="1.3"/>
<ellipse cx="620.3" cy="259.2" rx="0.95" ry="3.8" stroke-width="1.3"/>
<ellipse cx="622.75" cy="259.2" rx="0.95" ry="3.8" stroke-width="1.3"/>
<ellipse cx="625.2" cy="259.2" rx="0.95" ry="3.8" stroke-width="1.3"/>
<ellipse cx="627.65" cy="259.2" rx="0.95" ry="3.8" stroke-width="1.3"/>
<ellipse cx="630.1" cy="259.2" rx="0.95" ry="3.8" stroke-width="1.3"/>
<ellipse cx="632.55" cy="259.2" rx="0.95" ry="3.8" stroke-width="1.3"/>
<ellipse cx="635" cy="259.2" rx="0.95" ry="3.8" stroke-width="1.3"/>
<ellipse cx="637.45" cy="259.2" rx="0.95" ry="3.8" stroke-width="1.3"/>
<ellipse cx="639.9" cy="259.2" rx="0.95" ry="3.8" stroke-width="1.3"/>
<ellipse cx="642.35" cy="259.2" rx="0.95" ry="3.8" stroke-width="1.3"/>
<line x1="604.5" y1="256.2" x2="604.5" y2="262.2" stroke-width="1"/>
<path d="M643 255.6L649.6 251.2L649.6 267.2L643 262.8Z" stroke-width="1.2"/>
<line x1="649.5" y1="251.2" x2="649.5" y2="267.2" stroke-width="1.6"/>
<line x1="643" y1="259.5" x2="652" y2="259.5" stroke-width="0.9"/></g></svg>
</body></html>
